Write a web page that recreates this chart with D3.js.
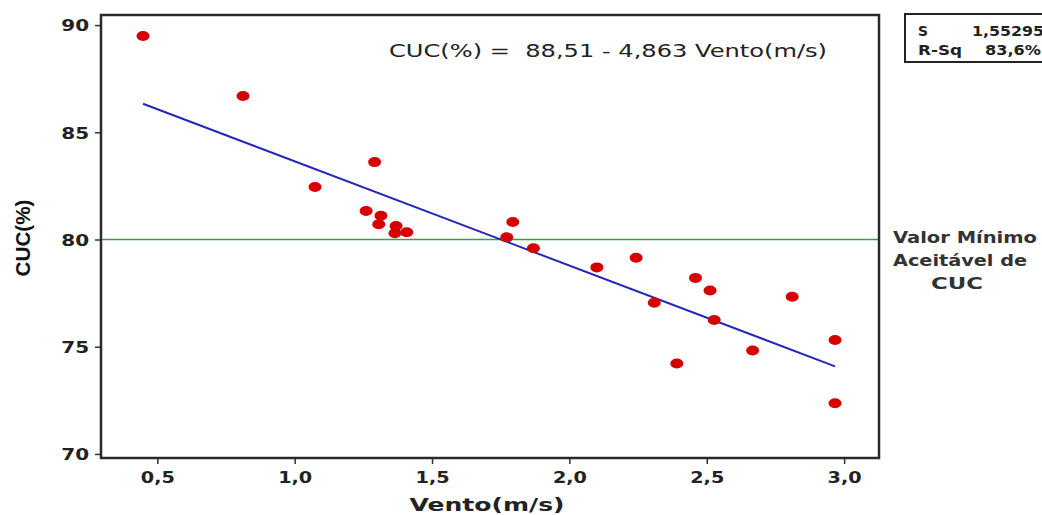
<!DOCTYPE html>
<html>
<head>
<meta charset="utf-8">
<script src="https://cdn.jsdelivr.net/npm/d3@7"></script>
<style>
  body { margin: 0; background: #fff; }
  svg { display: block; }
  .tick text { font-family: "DejaVu Sans", sans-serif; font-weight: bold; font-size: 16px; fill: #222; }
  .tick line { stroke: #333; stroke-width: 1.5; }
</style>
</head>
<body>
<div id="chart-area"><svg></svg></div>
<script>
// wind speed (m/s) and uniformity coefficient CUC (%)
const vento = [0.448, 0.812, 1.074, 1.291, 1.260, 1.314, 1.306, 1.369, 1.365, 1.408,
  1.794, 1.772, 1.869, 2.100, 2.243, 2.309, 2.391, 2.459, 2.512, 2.527,
  2.667, 2.811, 2.967, 2.967];
const cuc = [89.49, 86.69, 82.45, 83.61, 81.33, 81.11, 80.71, 80.63, 80.29, 80.34,
  80.82, 80.10, 79.59, 78.70, 79.15, 77.05, 74.22, 78.21, 77.62, 76.25,
  74.82, 77.33, 75.31, 72.36];
const xTicks = [0.5, 1.0, 1.5, 2.0, 2.5, 3.0];
const yTicks = [70, 75, 80, 85, 90];
const intercept = 88.51;
const slope = -4.863;
const statLabels = ['S', 'R-Sq'];
const statValues = ['1,55295', '83,6%'];
const limitValue = 80;
const limitLabel = ['Valor Mínimo', 'Aceitável de', 'CUC'];

const chartSize = { width: 1042, height: 515 };
const margin = { left: 101, top: 15, right: 163, bottom: 57 };
const width = chartSize.width - margin.left - margin.right;
const height = chartSize.height - margin.top - margin.bottom;

const comma = d => d3.format('.1f')(d).replace('.', ',');
const decComma = d => String(d).replace('.', ',');

const drawChart = () => {
  const svg = d3.select('#chart-area svg')
    .attr('width', chartSize.width)
    .attr('height', chartSize.height);

  const x = d3.scaleLinear().domain([0.295, 3.127]).range([0, width]);
  const y = d3.scaleLinear().domain([69.81, 90.47]).range([height, 0]);

  const g = svg.append('g')
    .attr('transform', `translate(${margin.left},${margin.top})`);

  // axes
  const yAxis = g.append('g').attr('class', 'y-axis')
    .call(d3.axisLeft(y).tickValues(yTicks).tickSize(6).tickSizeOuter(0));
  yAxis.select('.domain').remove();
  yAxis.selectAll('.tick text')
    .attr('x', -9.5)
    .attr('dy', '0.36em')
    .attr('transform', 'scale(1.25,1)');

  const xAxis = g.append('g').attr('class', 'x-axis')
    .attr('transform', `translate(0,${height})`)
    .call(d3.axisBottom(x).tickValues(xTicks).tickFormat(comma).tickSize(6).tickSizeOuter(0));
  xAxis.select('.domain').remove();
  xAxis.selectAll('.tick text')
    .attr('y', 14)
    .attr('transform', 'scale(1.2,1)');

  // reference line
  g.append('line')
    .attr('x1', 0).attr('x2', width)
    .attr('y1', y(limitValue)).attr('y2', y(limitValue))
    .attr('stroke', '#33a04a').attr('stroke-width', 1.6);

  // fitted line
  const x0 = d3.min(vento), x1 = d3.max(vento);
  g.append('line')
    .attr('x1', x(x0)).attr('y1', y(intercept + slope * x0))
    .attr('x2', x(x1)).attr('y2', y(intercept + slope * x1))
    .attr('stroke', '#2626b8').attr('stroke-width', 2);

  // points
  g.selectAll('.pt')
    .data(vento)
    .enter()
    .append('ellipse')
    .attr('class', 'pt')
    .attr('cx', d => x(d))
    .attr('cy', (d, i) => y(cuc[i]))
    .attr('rx', 6.5).attr('ry', 5)
    .attr('fill', '#d60000');

  // frame
  g.append('rect')
    .attr('width', width).attr('height', height)
    .attr('fill', 'none').attr('stroke', '#2a2a2a').attr('stroke-width', 2.5);

  // equation
  g.append('text')
    .attr('x', 288).attr('y', 42)
    .attr('textLength', 438).attr('lengthAdjust', 'spacingAndGlyphs')
    .style('white-space', 'pre')
    .style('font-family', 'DejaVu Sans, sans-serif').style('font-size', '17px')
    .attr('fill', '#222')
    .text(`CUC(%) =  ${decComma(intercept)} - ${decComma(-slope)} Vento(m/s)`);

  // axis labels
  svg.append('text')
    .attr('x', 487).attr('y', 511)
    .attr('text-anchor', 'middle')
    .attr('textLength', 155).attr('lengthAdjust', 'spacingAndGlyphs')
    .style('font-family', 'DejaVu Sans, sans-serif').style('font-weight', 'bold').style('font-size', '18px')
    .attr('fill', '#222')
    .text('Vento(m/s)');

  svg.append('text')
    .attr('transform', 'translate(30,238) rotate(-90)')
    .attr('text-anchor', 'middle')
    .attr('textLength', 77).attr('lengthAdjust', 'spacingAndGlyphs')
    .style('font-family', 'Liberation Sans, sans-serif').style('font-weight', 'bold').style('font-size', '20px')
    .attr('fill', '#111')
    .text('CUC(%)');

  // stats box
  svg.append('rect')
    .attr('x', 905).attr('y', 14).attr('width', 150).attr('height', 48)
    .attr('fill', '#fff').attr('stroke', '#222').attr('stroke-width', 2);
  const statLen = [[10, 72], [44, 56]];
  statLabels.forEach((lab, i) => {
    const row = svg.append('g')
      .style('font-family', 'DejaVu Sans, sans-serif').style('font-weight', 'bold').style('font-size', '14px')
      .attr('fill', '#222');
    row.append('text').attr('x', 918).attr('y', 36 + i * 19)
      .attr('textLength', statLen[i][0]).attr('lengthAdjust', 'spacingAndGlyphs').text(lab);
    row.append('text').attr('x', i === 0 ? 972 : 985).attr('y', 36 + i * 19)
      .attr('textLength', statLen[i][1]).attr('lengthAdjust', 'spacingAndGlyphs').text(statValues[i]);
  });

  // limit label
  const lab = svg.append('g')
    .style('font-family', 'DejaVu Sans, sans-serif').style('font-weight', 'bold').style('font-size', '16px')
    .attr('fill', '#333');
  lab.append('text').attr('x', 893).attr('y', 243)
    .attr('textLength', 144).attr('lengthAdjust', 'spacingAndGlyphs').text(limitLabel[0]);
  lab.append('text').attr('x', 893).attr('y', 266)
    .attr('textLength', 134).attr('lengthAdjust', 'spacingAndGlyphs').text(limitLabel[1]);
  lab.append('text').attr('x', 957).attr('y', 289).attr('text-anchor', 'middle')
    .attr('textLength', 52).attr('lengthAdjust', 'spacingAndGlyphs').text(limitLabel[2]);
};

window.onload = drawChart;
</script>
</body>
</html>
